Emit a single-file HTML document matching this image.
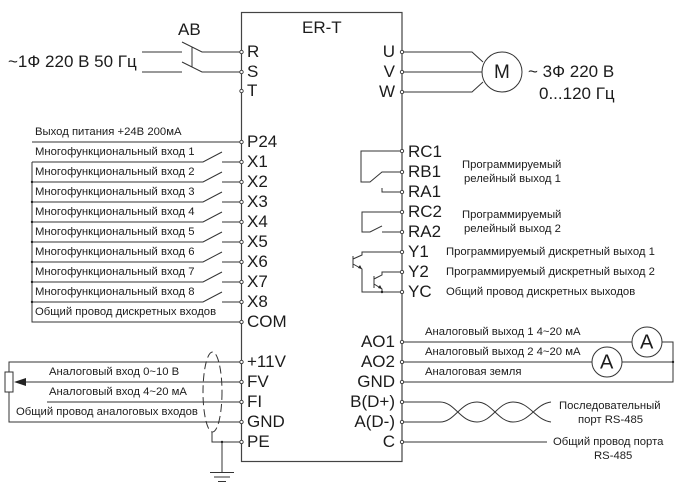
<!DOCTYPE html>
<html><head><meta charset="utf-8"><style>
html,body{margin:0;padding:0;background:#fff}
svg{display:block}
text{font-family:"Liberation Sans",sans-serif;fill:#1c1c1c}
.t{font-size:11.3px;fill:#333}
.p{font-size:17px}
.l{fill:none;stroke:#333;stroke-width:1}
</style></head><body>
<svg width="679" height="489" viewBox="0 0 679 489" xmlns="http://www.w3.org/2000/svg">
<rect x="241.5" y="12.5" width="160.5" height="449" fill="none" stroke="#444" stroke-width="1.2"/>
<g class="l">
<!-- power -->
<path d="M142 52H182M142 72H182M182 42L202 52H241M182 62L202 72H241M192 47V67"/>
<!-- digital -->
<path d="M32 142H241M32 162V322H241"/>
<path d="M32 162H203L222 152M222 162H241"/>
<path d="M32 182H203L222 172M222 182H241"/>
<path d="M32 202H203L222 192M222 202H241"/>
<path d="M32 222H203L222 212M222 222H241"/>
<path d="M32 242H203L222 232M222 242H241"/>
<path d="M32 262H203L222 252M222 262H241"/>
<path d="M32 282H203L222 272M222 282H241"/>
<path d="M32 302H203L222 292M222 302H241"/>
<!-- analog -->
<path d="M241 362H9V372M9 392V422H241M47 402H241M18 382H241"/>
<rect x="5" y="372" width="8" height="20"/>
<ellipse cx="212.5" cy="392" rx="9.5" ry="40" stroke-dasharray="8 4"/>
<path d="M212 432V442H241M222 442V472M210 472.5H234M214 477H230M218 481.500H226"/>
<!-- motor -->
<path d="M402 52H472L483 62M402 72H482M402 92H472L483 82"/>
<circle cx="502" cy="72" r="20"/>
<!-- relays -->
<path d="M402 151H361V182H370L382 172H402M382 188V192H402"/>
<path d="M402 212H362V232H370L382 226M382 232H402"/>
<!-- transistors -->
<path d="M402 252H362V255L353 259M353 256V268M353 264L362 269V292H402"/>
<path d="M402 272H382V275L374 279M374 276V288M374 284L382 289V292"/>
<!-- analog out -->
<path d="M402 342H632M662 342H673V382H402M402 362H592M622 362H673"/>
<circle cx="647" cy="342" r="15"/><circle cx="607" cy="362" r="15"/>
<!-- RS-485 -->
<path d="M402 402H440C455 402 460 422 477 422C492 422 498 402 513 402C530 402 535 420 551 422"/>
<path d="M402 422H440C455 422 460 402 477 402C492 402 498 422 513 422C530 422 535 404 551 402"/>
<path d="M402 442H547"/>
</g>
<path d="M14 382L26 378V386Z" fill="#222"/>
<path d="M362 269L358 268L360 265Z M382 289L378 288L380 285Z" fill="#222"/>
<g fill="#222">
<circle cx="32" cy="182" r="1.200"/><circle cx="32" cy="202" r="1.200"/><circle cx="32" cy="222" r="1.200"/><circle cx="32" cy="242" r="1.200"/><circle cx="32" cy="262" r="1.200"/><circle cx="32" cy="282" r="1.200"/><circle cx="32" cy="302" r="1.200"/>
<circle cx="222" cy="442" r="1.200"/><circle cx="673" cy="362" r="1.200"/><circle cx="382" cy="292" r="1.200"/>
</g>
<g fill="#fff" stroke="#333" stroke-width="0.900">
<circle cx="241.500" cy="52" r="1.700"/><circle cx="241.500" cy="72" r="1.700"/><circle cx="241.500" cy="91" r="1.700"/>
<circle cx="241.500" cy="142" r="1.700"/><circle cx="241.500" cy="162" r="1.700"/><circle cx="241.500" cy="182" r="1.700"/><circle cx="241.500" cy="202" r="1.700"/><circle cx="241.500" cy="222" r="1.700"/><circle cx="241.500" cy="242" r="1.700"/><circle cx="241.500" cy="262" r="1.700"/><circle cx="241.500" cy="282" r="1.700"/><circle cx="241.500" cy="302" r="1.700"/><circle cx="241.500" cy="322" r="1.700"/>
<circle cx="241.500" cy="362" r="1.700"/><circle cx="241.500" cy="382" r="1.700"/><circle cx="241.500" cy="402" r="1.700"/><circle cx="241.500" cy="422" r="1.700"/><circle cx="241.500" cy="442" r="1.700"/>
<circle cx="402" cy="52" r="1.700"/><circle cx="402" cy="72" r="1.700"/><circle cx="402" cy="92" r="1.700"/>
<circle cx="402" cy="151" r="1.700"/><circle cx="402" cy="172" r="1.700"/><circle cx="402" cy="192" r="1.700"/><circle cx="402" cy="212" r="1.700"/><circle cx="402" cy="232" r="1.700"/><circle cx="402" cy="252" r="1.700"/><circle cx="402" cy="272" r="1.700"/><circle cx="402" cy="292" r="1.700"/>
<circle cx="402" cy="342" r="1.700"/><circle cx="402" cy="362" r="1.700"/><circle cx="402" cy="382" r="1.700"/><circle cx="402" cy="402" r="1.700"/><circle cx="402" cy="422" r="1.700"/><circle cx="402" cy="442" r="1.700"/>
</g>
<text class="p" x="302" y="33">ER-T</text>
<text class="p" x="178" y="35">АВ</text>
<text class="p" x="8" y="67">~1Ф 220 В 50 Гц</text>
<g class="p">
<text x="247" y="57">R</text><text x="247" y="77">S</text><text x="247" y="96">T</text>
<text x="247" y="147">P24</text><text x="247" y="167">X1</text><text x="247" y="187">X2</text><text x="247" y="207">X3</text><text x="247" y="227">X4</text><text x="247" y="247">X5</text><text x="247" y="267">X6</text><text x="247" y="287">X7</text><text x="247" y="307">X8</text><text x="247" y="327">COM</text>
<text x="247" y="367">+11V</text><text x="247" y="387">FV</text><text x="247" y="407">FI</text><text x="247" y="427">GND</text><text x="247" y="447">PE</text>
<g text-anchor="end">
<text x="395" y="57">U</text><text x="395" y="77">V</text><text x="395" y="97">W</text>
<text x="395" y="347">AO1</text><text x="395" y="367">AO2</text><text x="395" y="387">GND</text><text x="395" y="407">B(D+)</text><text x="395" y="427">A(D-)</text><text x="395" y="447">C</text>
</g>
<text x="408" y="157">RC1</text><text x="408" y="177">RB1</text><text x="408" y="197">RA1</text><text x="408" y="217">RC2</text><text x="408" y="237">RA2</text><text x="408" y="257">Y1</text><text x="408" y="277">Y2</text><text x="408" y="297">YC</text>
<text x="528" y="77">~ 3Ф 220 В</text>
<text x="539" y="99">0...120 Гц</text>
</g>
<text x="494" y="78" style="font-size:19px">M</text>
<text x="640" y="348.500" style="font-size:20px">A</text><text x="600" y="368.500" style="font-size:20px">A</text>
<g class="t">
<text x="35" y="135">Выход питания +24В 200мА</text>
<text x="35" y="155">Многофункциональный вход 1</text>
<text x="35" y="175">Многофункциональный вход 2</text>
<text x="35" y="195">Многофункциональный вход 3</text>
<text x="35" y="215">Многофункциональный вход 4</text>
<text x="35" y="235">Многофункциональный вход 5</text>
<text x="35" y="255">Многофункциональный вход 6</text>
<text x="35" y="275">Многофункциональный вход 7</text>
<text x="35" y="295">Многофункциональный вход 8</text>
<text x="35" y="315">Общий провод дискретных входов</text>
<text x="49" y="375">Аналоговый вход 0~10 В</text>
<text x="49" y="395">Аналоговый вход 4~20 мА</text>
<text x="16" y="415">Общий провод аналоговых входов</text>
<text x="462" y="168">Программируемый</text>
<text x="464" y="182">релейный выход 1</text>
<text x="462" y="218">Программируемый</text>
<text x="464" y="232">релейный выход 2</text>
<text x="446" y="255">Программируемый дискретный выход 1</text>
<text x="446" y="275">Программируемый дискретный выход 2</text>
<text x="446" y="295">Общий провод дискретных выходов</text>
<text x="425" y="335">Аналоговый выход 1 4~20 мА</text>
<text x="425" y="355">Аналоговый выход 2 4~20 мА</text>
<text x="425" y="375">Аналоговая земля</text>
<text x="559" y="409">Последовательный</text>
<text x="578" y="423">порт RS-485</text>
<text x="553" y="445">Общий провод порта</text>
<text x="594" y="459">RS-485</text>
</g>
</svg>
</body></html>
